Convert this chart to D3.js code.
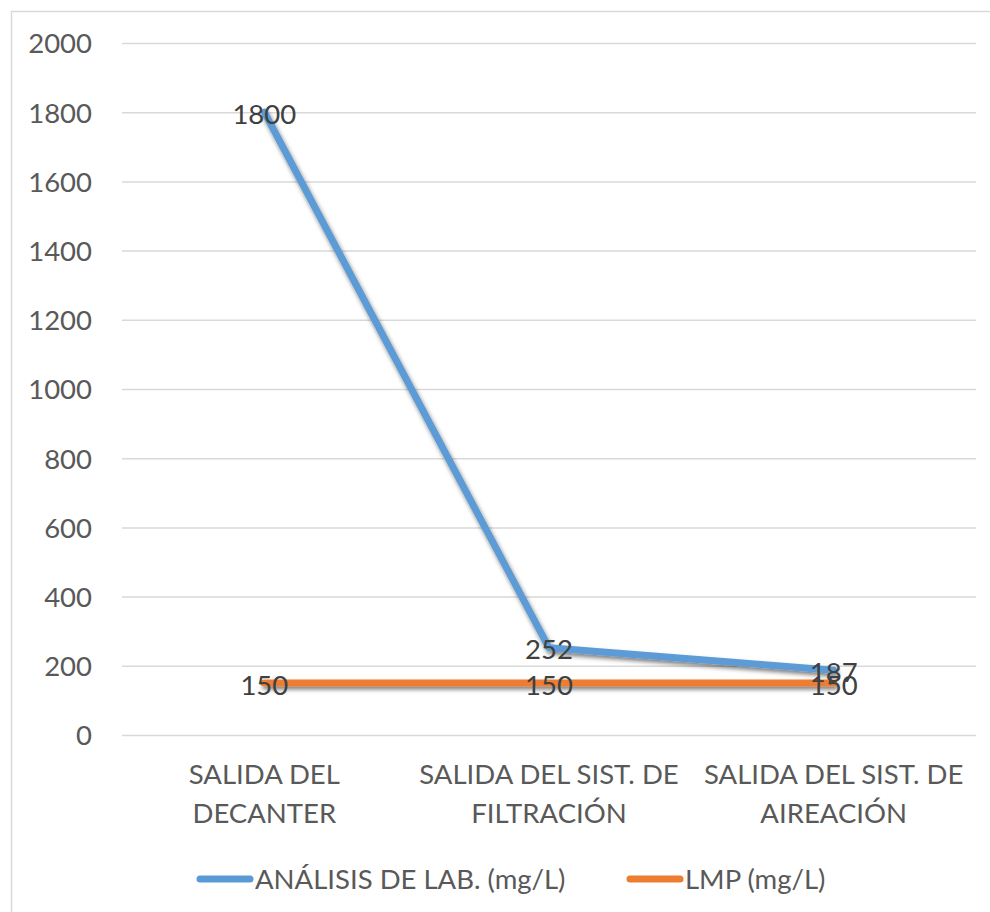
<!DOCTYPE html>
<html>
<head>
<meta charset="utf-8">
<script src="https://cdn.jsdelivr.net/npm/d3@7"></script>
<style>
  html, body { margin: 0; padding: 0; background: #fff; }
  svg { display: block; }
  text { font-family: Lato, "Open Sans", sans-serif; }
</style>
</head>
<body>
<svg id="chart" width="990" height="912"></svg>
<script>
const categories = [
  ["SALIDA DEL", "DECANTER"],
  ["SALIDA DEL SIST. DE", "FILTRACIÓN"],
  ["SALIDA DEL SIST. DE", "AIREACIÓN"]
];
const seriesNames = ["ANÁLISIS DE LAB. (mg/L)", "LMP (mg/L)"];
const analisisValues = [1800, 252, 187];
const lmpValues = [150, 150, 150];
const seriesColors = ["#5B9BD5", "#ED7D31"];
const yTicks = [0, 200, 400, 600, 800, 1000, 1200, 1400, 1600, 1800, 2000];

const W = 990, H = 912;
const margin = { left: 122, right: 14, top: 43, bottom: 177 };
const svg = d3.select("#chart");

// outer chart border (extends beyond right/bottom like the reference crop)
svg.append("rect")
  .attr("x", 11.5).attr("y", 11.5)
  .attr("width", W + 20).attr("height", H + 20)
  .attr("fill", "#fff").attr("stroke", "#d9d9d9").attr("stroke-width", 1.5);

const defs = svg.append("defs");
const f = defs.append("filter").attr("id", "shadow")
  .attr("filterUnits", "userSpaceOnUse")
  .attr("x", 0).attr("y", 0).attr("width", W).attr("height", H);
f.append("feDropShadow").attr("dx", 1.5).attr("dy", 3).attr("stdDeviation", 2.2)
  .attr("flood-color", "#000").attr("flood-opacity", 0.5);

const x = d3.scaleBand()
  .domain(d3.range(categories.length))
  .range([margin.left, W - margin.right]);

const y = d3.scaleLinear()
  .domain([0, 2000])
  .range([H - margin.bottom, margin.top]);

// gridlines
const gGrid = svg.append("g")
  .call(d3.axisLeft(y).tickValues(yTicks).tickSize(-(x.range()[1] - x.range()[0])).tickFormat(""))
  .attr("transform", `translate(${margin.left},0)`);
gGrid.select(".domain").remove();
gGrid.selectAll(".tick line").attr("stroke", "#d9d9d9").attr("stroke-width", 1.5);

// y tick labels
const gY = svg.append("g")
  .attr("transform", `translate(92,0)`)
  .call(d3.axisLeft(y).tickValues(yTicks).tickSize(0).tickPadding(0).tickFormat(d3.format("d")));
gY.select(".domain").remove();
gY.selectAll("text")
  .attr("fill", "#595959")
  .style("font-size", "27.5px")
  .style("font-family", "Lato, sans-serif")
  .attr("dy", "0.36em");

// x labels
const gX = svg.append("g");
categories.forEach((lines, i) => {
  const t = gX.append("text")
    .attr("x", x(i) + x.bandwidth() / 2)
    .attr("y", 784)
    .attr("text-anchor", "middle")
    .attr("fill", "#595959")
    .style("font-size", "27.5px");
  lines.forEach((ln, j) => {
    t.append("tspan").attr("x", x(i) + x.bandwidth() / 2).attr("y", 784 + j * 39).text(ln);
  });
});

// lines
const line = d3.line()
  .x((d, i) => x(i) + x.bandwidth() / 2)
  .y(d => y(d));

const allSeries = [analisisValues, lmpValues];
allSeries.forEach((vals, si) => {
  svg.append("path")
    .datum(vals)
    .attr("d", line)
    .attr("fill", "none")
    .attr("stroke", seriesColors[si])
    .attr("stroke-width", 7)
    .attr("stroke-linecap", "round")
    .attr("stroke-linejoin", "round")
    .attr("filter", "url(#shadow)");
});

// data labels
allSeries.forEach((vals) => {
  svg.append("g").selectAll("text")
    .data(vals)
    .join("text")
    .attr("x", (d, i) => x(i) + x.bandwidth() / 2)
    .attr("y", d => y(d) + 1.5)
    .attr("dy", "0.36em")
    .attr("text-anchor", "middle")
    .attr("fill", "#404040")
    .style("font-size", "27.5px")
    .text(d => d);
});

// legend
const legendItems = [
  { x: 200, name: seriesNames[0], color: seriesColors[0] },
  { x: 630, name: seriesNames[1], color: seriesColors[1] }
];
const lg = svg.append("g");
legendItems.forEach(it => {
  lg.append("line")
    .attr("x1", it.x).attr("x2", it.x + 50)
    .attr("y1", 879).attr("y2", 879)
    .attr("stroke", it.color).attr("stroke-width", 7)
    .attr("stroke-linecap", "round");
  lg.append("text")
    .attr("x", it.x + 55).attr("y", 879)
    .attr("dy", "0.36em")
    .attr("fill", "#595959")
    .style("font-size", "27.5px")
    .text(it.name);
});
</script>
</body>
</html>
